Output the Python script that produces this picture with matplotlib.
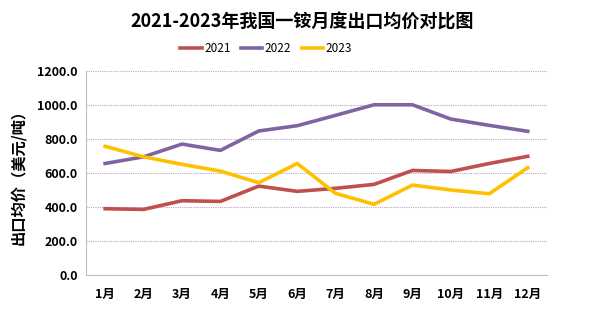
import matplotlib.pyplot as plt

plt.rcParams['font.family'] = ['Noto Sans CJK SC', 'DejaVu Sans']

months = ["1月", "2月", "3月", "4月", "5月", "6月", "7月", "8月", "9月", "10月", "11月", "12月"]
price_2021 = [392, 388, 439, 435, 525, 494, 512, 535, 617, 611, 658, 700]
price_2022 = [658, 697, 772, 735, 849, 880, 941, 1003, 1003, 919, 882, 847]
price_2023 = [759, 697, 653, 613, 545, 658, 482, 418, 531, 502, 480, 633]
yticks = [0, 200, 400, 600, 800, 1000, 1200]

fig = plt.figure(figsize=(6.05, 3.21), dpi=100)
ax = fig.add_axes([0.142, 0.142, 0.762, 0.636])

x = range(len(months))
ax.plot(x, price_2021, color="#C0504D", lw=2.6, label="2021")
ax.plot(x, price_2022, color="#8064A2", lw=2.6, label="2022")
ax.plot(x, price_2023, color="#FFC000", lw=2.6, label="2023")

ax.set_xlim(-0.5, len(months) - 0.5)
ax.set_ylim(0, 1200)
ax.set_yticks(yticks)
ax.set_yticklabels([f"{v:.1f}" for v in yticks], fontsize=9, fontweight="bold")
ax.set_xticks(list(x))
ax.set_xticklabels(months, fontsize=9, fontweight="bold")
ax.tick_params(length=0, pad=6)
ax.tick_params(axis="x", pad=9)

ax.grid(axis="y", color="#B8A8B8", linestyle=(0, (1, 1)), lw=0.8)
ax.set_axisbelow(True)
for s in ["top", "right"]:
    ax.spines[s].set_visible(False)
ax.spines["left"].set_color("#BFBFBF")
ax.spines["bottom"].set_color("#BFBFBF")

ax.set_ylabel("出口均价（美元/吨）", fontsize=11, fontweight="bold", labelpad=8)

fig.text(0.5, 0.93, "2021-2023年我国一铵月度出口均价对比图", ha="center", va="center",
         fontsize=13, fontweight="bold")
fig.legend(loc="center", bbox_to_anchor=(0.44, 0.85), ncol=3, frameon=False,
           fontsize=8.5, handlelength=1.8, columnspacing=0.9, handletextpad=0.2)

fig.savefig("out.png", dpi=100)
